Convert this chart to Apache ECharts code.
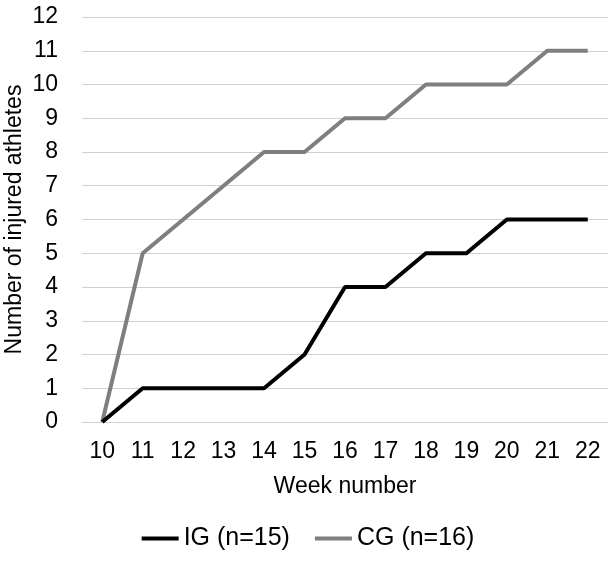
<!DOCTYPE html>
<html>
<head>
<meta charset="utf-8">
<script src="https://cdn.jsdelivr.net/npm/echarts@6/dist/echarts.min.js"></script>
<style>
  html, body { margin: 0; padding: 0; background: #fff; }
  #chart { width: 616px; height: 567px; }
</style>
</head>
<body>
<div id="chart"></div>
<script>
// week numbers on the x axis
const weeks = ["10", "11", "12", "13", "14", "15", "16", "17", "18", "19", "20", "21", "22"];
// cumulative injured athletes
const igValues = [0, 1, 1, 1, 1, 2, 4, 4, 5, 5, 6, 6, 6];
const cgValues = [0, 5, 6, 7, 8, 8, 9, 9, 10, 10, 10, 11, 11];
const seriesNames = ["IG (n=15)", "CG (n=16)"];

const font = "Liberation Sans, Arial, sans-serif";

const chart = echarts.init(document.getElementById("chart"));
chart.setOption({
  animation: false,
  grid: { left: 82, right: 8, top: 17, bottom: 145, outerBoundsMode: "none", containLabel: false },
  legend: {
    bottom: 11,
    left: "center",
    icon: "rect",
    itemWidth: 37,
    itemHeight: 4,
    itemGap: 25,
    textStyle: { fontFamily: font, fontSize: 25, color: "#000" },
    data: seriesNames
  },
  xAxis: {
    type: "category",
    data: weeks,
    name: "Week number",
    nameLocation: "middle",
    nameGap: 53,
    nameMoveOverlap: false,
    nameTextStyle: { fontFamily: font, fontSize: 23, color: "#000" },
    axisLine: { lineStyle: { color: "#d0d0d0", width: 1 } },
    axisTick: { show: false },
    axisLabel: { fontFamily: font, fontSize: 23, color: "#000", margin: 18 }
  },
  yAxis: {
    type: "value",
    min: 0,
    max: 12,
    interval: 1,
    name: "Number of injured athletes",
    nameLocation: "middle",
    nameGap: 56,
    nameMoveOverlap: false,
    nameTextStyle: { fontFamily: font, fontSize: 23, color: "#000" },
    axisLine: { show: false },
    axisTick: { show: false },
    axisLabel: { fontFamily: font, fontSize: 23, color: "#000", margin: 24 },
    splitLine: { lineStyle: { color: "#d0d0d0", width: 1 } }
  },
  series: [
    {
      name: seriesNames[0],
      type: "line",
      data: igValues,
      symbol: "none",
      lineStyle: { color: "#000", width: 4 },
      itemStyle: { color: "#000" },
      z: 3
    },
    {
      name: seriesNames[1],
      type: "line",
      data: cgValues,
      symbol: "none",
      lineStyle: { color: "#7f7f7f", width: 4 },
      itemStyle: { color: "#7f7f7f" },
      z: 2
    }
  ]
});
</script>
</body>
</html>
